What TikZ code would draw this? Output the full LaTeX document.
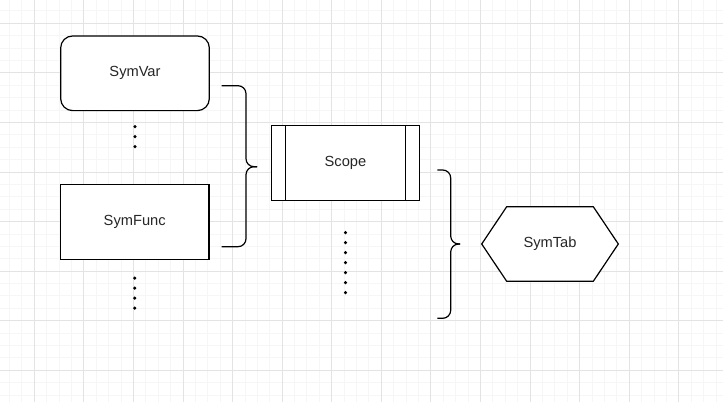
\documentclass[tikz,border=0pt]{standalone}
\usepackage{fontspec}
\setmainfont{Liberation Sans}
\usetikzlibrary{positioning}
\begin{document}
\begin{tikzpicture}[x=0.75pt,y=-0.75pt,
  every node/.style={font=\fontsize{11}{13}\selectfont, text=black!85},
  box/.style={draw, fill=white, line width=0.9pt, minimum width=111.5pt, minimum height=56pt, inner sep=0pt},
  dot/.style={circle, fill=black, inner sep=0pt, minimum size=2.6pt},
  brace/.style={line width=0.9pt, rounded corners=6pt},
  minorline/.style={gray!7, line width=0.75pt},
  majorline/.style={gray!22, line width=0.75pt}]
\useasboundingbox (0,0) rectangle (723,402);
\foreach \i in {0,...,57} \draw[minorline] ({9.5+\i*12.395},0) -- ++(0,402);
\foreach \j in {0,...,31} \draw[minorline] (0,{10.9+\j*12.395}) -- ++(723,0);
\foreach \k in {0,...,13} \draw[majorline] ({34.3+\k*49.58},0) -- ++(0,402);
\foreach \k in {0,...,7} \draw[majorline] (0,{23.3+\k*49.58}) -- ++(723,0);

\node[box, rounded corners=9pt] (symvar) at (135,73.3) {SymVar};
\node[box] (symfunc) at (134.7,222.2) {SymFunc};
\node[box] (scope) at (345.5,163) {Scope};
\draw[line width=0.9pt] ([xshift=11pt]scope.north west) -- ([xshift=11pt]scope.south west);
\draw[line width=0.9pt] ([xshift=-11pt]scope.north east) -- ([xshift=-11pt]scope.south east);

\coordinate (tabc) at (550,244);
\draw[line width=0.9pt, fill=white, shift={(tabc)}] (-68.3,0) -- (-43.3,-37.3) -- (43.3,-37.3)
  -- (68.3,0) -- (43.3,37.3) -- (-43.3,37.3) -- cycle;
\node (symtab) at (tabc) {SymTab};

\foreach \d in {1,2,3} \node[dot] at ([yshift={-(4+7.5*\d)*1pt}]symvar.south) {};
\foreach \d in {1,...,4} \node[dot] at ([yshift={-(6+7.5*\d)*1pt}]symfunc.south) {};
\foreach \d in {1,...,7} \node[dot] at ([yshift={-(16.3+7.5*\d)*1pt}]scope.south) {};

\draw[brace] (221.7,85.7) -- (246,85.7) -- (246,166.7) -- (257,166.7);
\draw[brace] (221.7,246.7) -- (246,246.7) -- (246,166.7) -- (257,166.7);
\draw[brace] (437.3,170) -- (450.7,170) -- (450.7,244) -- (460,244);
\draw[brace] (437.3,318.3) -- (450.7,318.3) -- (450.7,244) -- (460,244);
\end{tikzpicture}
\end{document}
